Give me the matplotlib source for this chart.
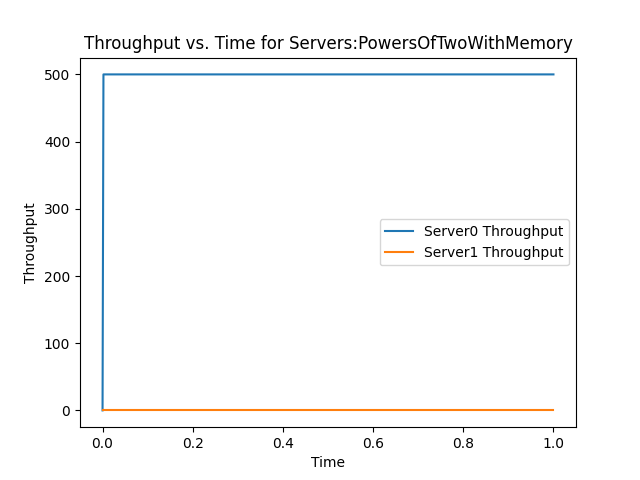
import matplotlib
matplotlib.use('Agg')
import matplotlib.pyplot as plt

time = [0.0, 0.002, 1.0]
server0 = [0, 500, 500]
server1 = [0, 0, 0]

fig = plt.figure(figsize=(6.4, 4.8), dpi=100)
plt.plot(time, server0, label='Server0 Throughput')
plt.plot(time, server1, label='Server1 Throughput')
plt.xlabel('Time')
plt.ylabel('Throughput')
plt.title('Throughput vs. Time for Servers:PowersOfTwoWithMemory')
plt.legend()
plt.savefig('out.png')
